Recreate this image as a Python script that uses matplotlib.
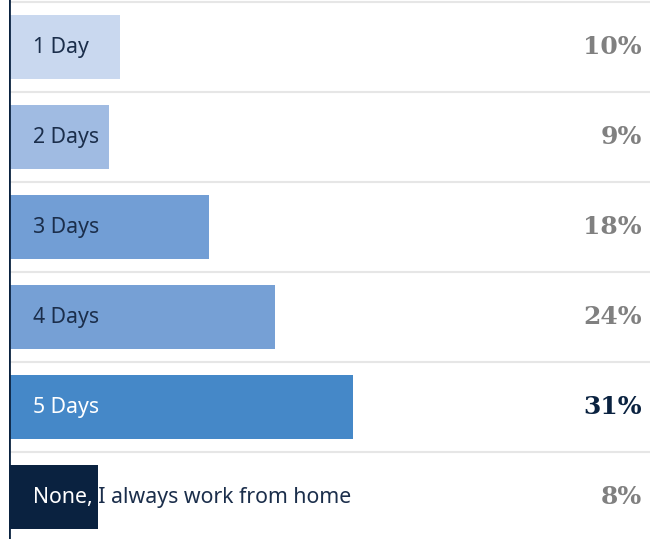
import matplotlib
matplotlib.use("Agg")
import matplotlib.pyplot as plt
from matplotlib.transforms import Bbox, TransformedBbox

categories = ["1 Day", "2 Days", "3 Days", "4 Days", "5 Days", "None, I always work from home"]
values = [10, 9, 18, 24, 31, 8]
value_labels = ["10%", "9%", "18%", "24%", "31%", "8%"]
bar_colors = ["#c9d8ef", "#a0bbe2", "#729ed5", "#76a0d5", "#4588c8", "#0a2240"]
label_colors = ["#1b2e4b", "#1b2e4b", "#1b2e4b", "#1b2e4b", "#ffffff", "#ffffff"]
pct_colors = ["#808080", "#808080", "#808080", "#808080", "#0a2240", "#808080"]

W, H = 650, 539
fig = plt.figure(figsize=(W / 100, H / 100), dpi=100)
ax = fig.add_axes([9 / W, 0, 1 - 9 / W, 1])
xmax = (W - 9) / 11.1
ax.set_xlim(0, xmax)
ax.set_ylim(492 / 90, -47 / 90)
ax.axis("off")

n = len(categories)
for i in range(n + 1):
    ax.axhline(i - 0.5, color="#e6e6e6", lw=1.5, zorder=0)

bh = 0.71
bars = ax.barh(range(n), values, height=bh, color=bar_colors, zorder=2)
ax.axvline(0, color="#0a2240", lw=2, zorder=3)

fs = 15.3
fam = "Noto Sans"
for i, (cat, v) in enumerate(zip(categories, values)):
    tx = 24 / 11.1
    if i == n - 1:
        ax.text(tx, i, cat, va="center", ha="left", fontsize=fs,
                family=fam, color="#1b2e4b", zorder=4)
        t2 = ax.text(tx, i, cat, va="center", ha="left", fontsize=fs,
                     family=fam, color="#ffffff", zorder=5)
        t2.set_clip_on(True)
        t2.set_clip_box(TransformedBbox(Bbox([[0, i - bh / 2], [v, i + bh / 2]]),
                                        ax.transData))
    else:
        ax.text(tx, i, cat, va="center", ha="left", fontsize=fs,
                family=fam, color=label_colors[i], zorder=4)
    ax.text(xmax - 8 / 11.1, i, value_labels[i], va="center", ha="right",
            fontsize=18, family="DejaVu Serif", fontweight="bold",
            color=pct_colors[i], zorder=4)

fig.savefig("out.png", dpi=100, facecolor="white")
